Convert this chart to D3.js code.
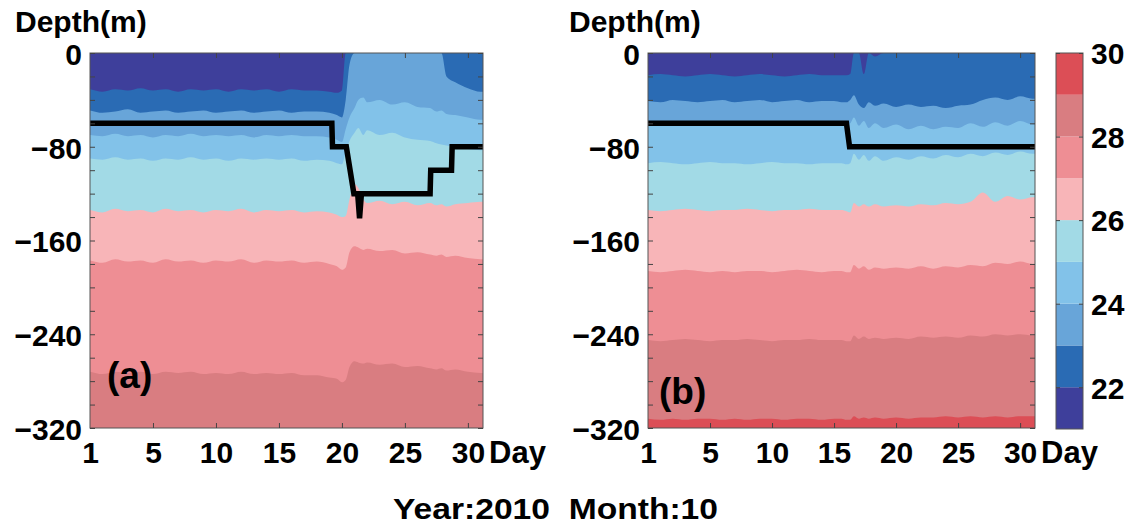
<!DOCTYPE html>
<html><head><meta charset="utf-8">
<script src="https://cdn.jsdelivr.net/npm/d3@7"></script>
<style>
html,body{margin:0;padding:0;background:#fff;}
svg text{font-family:"Liberation Sans",Arial,Helvetica,sans-serif;font-weight:bold;fill:#000;}
</style></head>
<body><svg id="chart" width="1127" height="525"></svg>
<script>
// ---------------- data ----------------
const tempLevels = [21,22,23,24,25,26,27,28,29,30];
const bandColors = ["#3e3f9b","#2a6bb4","#68a5d9","#82c2e9","#a2dae6","#f8b5b8","#ee8e94","#d97d81","#dc4e56"];
const depthTicks = [0,-80,-160,-240,-320];
const depthMinorTicks = [0,-20,-40,-60,-80,-100,-120,-140,-160,-180,-200,-220,-240,-260,-280,-300,-320];
const dayTickPos = [0,5,10,15,20,25,30];
const dayTickLabels = ["1","5","10","15","20","25","30"];
const cbarTicks = [22,24,26,28,30];

// panel (a): isotherm depths (m)
const daysA = [0,1,2,3,4,5,6,7,8,9,10,11,12,13,14,15,16,17,18,19,19.6,20.0,20.3,20.6,21.0,21.3,21.7,22,23,24,25,26,27,27.5,27.9,28.3,29,30,31,31.2];
const iso22A = [-31,-33,-31,-32,-30,-32,-31,-33,-31,-32,-31,-33,-31,-32,-31,-33,-31,-32,-32,-33,-34,-32,0,0,0,0,0,0,0,0,0,0,0,0,0,0,0,0,0,0];
const iso23A = [-49,-51,-50,-48,-51,-50,-49,-51,-50,-49,-51,-50,-49,-51,-50,-49,-51,-50,-50,-51,-53,-55,-40,-10,0,0,0,0,0,0,0,0,0,0,0,-20,-25,-30,-33,-33];
const iso24A = [-70,-71,-69,-71,-70,-72,-70,-71,-69,-71,-70,-71,-70,-72,-70,-71,-70,-71,-71,-72,-74,-76,-65,-55,-47,-40,-38,-42,-40,-44,-42,-46,-47,-50,-49,-52,-53,-55,-57,-57];
const iso25A = [-90,-91,-89,-91,-90,-92,-90,-91,-89,-91,-90,-92,-90,-91,-90,-91,-90,-92,-91,-92,-94,-95,-85,-75,-68,-64,-70,-66,-70,-68,-72,-74,-75,-77,-78,-79,-80,-82,-83,-83];
const iso26A = [-134,-136,-133,-135,-134,-136,-133,-135,-134,-136,-134,-135,-133,-136,-134,-135,-134,-136,-135,-136,-138,-140,-139,-125,-112,-115,-125,-128,-126,-129,-127,-130,-128,-130,-129,-131,-129,-128,-127,-127];
const iso27A = [-177,-179,-176,-178,-177,-179,-176,-178,-177,-179,-177,-178,-176,-179,-177,-178,-177,-179,-178,-180,-182,-185,-183,-170,-165,-166,-168,-167,-169,-168,-171,-170,-172,-173,-172,-174,-173,-175,-176,-176];
const iso28A = [-272,-274,-272,-273,-272,-274,-272,-273,-272,-274,-273,-274,-272,-274,-273,-274,-273,-275,-275,-277,-278,-281,-279,-268,-263,-264,-265,-264,-266,-265,-268,-267,-269,-270,-269,-271,-270,-272,-273,-273];
// mixed layer depth (a)
const mldDaysA  = [0,19.2,19.25,20.35,20.95,21.25,21.4,21.55,27.0,27.05,28.7,28.75,31.2];
const mldDepthA = [-60,-60,-80,-80,-120,-120,-141,-120,-120,-100,-100,-80,-80];

// panel (b): isotherm depths (m)
const daysB = [0,1,2,3,4,5,6,7,8,9,10,11,12,13,14,15,15.6,16.0,16.3,16.6,17.0,17.4,17.8,18.3,19,20,21,22,23,24,25,26,27,28,29,30,31,31.2];
const iso22B = [-19,-18,-19,-20,-19,-18,-19,-20,-19,-18,-19,-20,-19,-18,-19,-19,-19,-19,-18,0,0,-18,0,-3,0,0,0,0,0,0,0,0,0,0,0,0,0,0];
const iso23B = [-41,-42,-40,-41,-42,-41,-40,-42,-41,-40,-42,-41,-40,-42,-41,-41,-42,-42,-40,-36,-44,-47,-42,-45,-43,-46,-44,-46,-45,-47,-45,-44,-40,-38,-40,-37,-39,-39];
const iso24B = [-59,-60,-59,-60,-61,-60,-59,-60,-60,-59,-61,-60,-60,-59,-60,-60,-60,-61,-60,-55,-62,-58,-64,-60,-64,-61,-65,-62,-65,-63,-64,-60,-63,-59,-62,-58,-61,-61];
const iso25B = [-94,-93,-94,-95,-94,-93,-94,-94,-95,-94,-93,-94,-94,-95,-94,-94,-94,-95,-94,-86,-91,-87,-92,-88,-92,-89,-91,-88,-90,-87,-89,-86,-88,-85,-87,-84,-86,-86];
const iso26B = [-134,-135,-134,-133,-134,-135,-134,-134,-133,-134,-135,-134,-134,-133,-134,-134,-134,-135,-136,-128,-131,-129,-131,-129,-131,-130,-131,-129,-130,-128,-129,-127,-119,-127,-122,-125,-123,-123];
const iso27B = [-186,-187,-186,-185,-186,-187,-186,-187,-186,-186,-187,-186,-185,-186,-187,-186,-186,-187,-187,-181,-184,-182,-185,-183,-184,-183,-184,-182,-184,-182,-183,-181,-182,-179,-180,-178,-180,-180];
const iso28B = [-245,-246,-245,-244,-245,-246,-245,-245,-244,-245,-246,-245,-245,-244,-245,-245,-245,-246,-246,-241,-244,-242,-244,-243,-244,-243,-244,-242,-243,-242,-243,-241,-242,-240,-241,-240,-241,-241];
const iso29B = [-312,-313,-312,-313,-312,-312,-313,-312,-313,-312,-312,-313,-312,-312,-313,-312,-312,-313,-313,-310,-312,-311,-312,-311,-312,-311,-312,-311,-311,-310,-311,-310,-311,-310,-311,-310,-310,-310];
// mixed layer depth (b)
const mldDaysB  = [0,16.0,16.25,31.2];
const mldDepthB = [-60,-60,-80,-80];

// ---------------- drawing ----------------
const svg = d3.select("#chart");
const plotTop = 53, plotBottom = 428;
const dayDomain = [0, 31.2];
const depthDomain = [0, -320];

function panel(left, right, days, isos, mldDays, mldDepth, tag, tagX, tagY, depthX, id){
  const x = d3.scaleLinear().domain(dayDomain).range([left, right]);
  const y = d3.scaleLinear().domain(depthDomain).range([plotTop, plotBottom]);
  const g = svg.append("g");
  g.append("clipPath").attr("id", id).append("rect")
    .attr("x", left).attr("y", plotTop).attr("width", right-left).attr("height", plotBottom-plotTop);
  const pg = g.append("g").attr("clip-path", `url(#${id})`);
  const bounds = [days.map(() => depthDomain[0])].concat(isos);
  bounds.forEach((b, k) => {
    const pts = days.map((d, i) => ({d, v: b[i]}));
    const area = d3.area().x(p => x(p.d)).y0(p => y(p.v)).y1(y(depthDomain[1])).curve(d3.curveMonotoneX);
    pg.append("path").attr("d", area(pts)).attr("fill", bandColors[k]);
  });
  const line = d3.line().x(p => x(p[0])).y(p => y(p[1]));
  pg.append("path").attr("d", line(mldDays.map((d,i)=>[d, mldDepth[i]])))
    .attr("fill","none").attr("stroke","#000").attr("stroke-width",5.5).attr("stroke-linejoin","miter");
  g.append("rect").attr("x", left).attr("y", plotTop).attr("width", right-left).attr("height", plotBottom-plotTop)
    .attr("fill","none").attr("stroke","#555").attr("stroke-width",1);
  const tickStyle = s => s.call(a => a.select(".domain").remove()).selectAll("line").attr("stroke","#444");
  g.append("g").attr("transform",`translate(${left},0)`)
    .call(d3.axisLeft(y).tickValues(depthMinorTicks).tickSize(-5).tickFormat("")).call(tickStyle);
  g.append("g").attr("transform",`translate(${right},0)`)
    .call(d3.axisRight(y).tickValues(depthMinorTicks).tickSize(-5).tickFormat("")).call(tickStyle);
  g.append("g").attr("transform",`translate(0,${plotBottom})`)
    .call(d3.axisBottom(x).tickValues(dayTickPos.slice(1)).tickSize(-5).tickFormat("")).call(tickStyle);
  g.append("g").attr("transform",`translate(0,${plotTop})`)
    .call(d3.axisTop(x).tickValues(dayTickPos.slice(1)).tickSize(-5).tickFormat("")).call(tickStyle);
  const ya = g.append("g").attr("transform",`translate(${left},0)`)
    .call(d3.axisLeft(y).tickValues(depthTicks).tickSize(0).tickPadding(8)
      .tickFormat(v => v === 0 ? "0" : "\u2212" + Math.abs(v)));
  ya.select(".domain").remove();
  ya.selectAll("text").attr("font-size",30).attr("dy","0.38em")
    .style("font-family",'"Liberation Sans",Arial,sans-serif').style("font-weight","bold");
  const xa = g.append("g").attr("transform",`translate(0,${plotBottom})`)
    .call(d3.axisBottom(x).tickValues(dayTickPos).tickSize(0).tickPadding(0)
      .tickFormat((v,i) => dayTickLabels[i]));
  xa.select(".domain").remove();
  xa.selectAll("text").attr("font-size",30).attr("dy",null).attr("y",35)
    .style("font-family",'"Liberation Sans",Arial,sans-serif').style("font-weight","bold");
  g.append("text").attr("x", right + 6).attr("y", plotBottom + 35).attr("font-size",31).text("Day");
  g.append("text").attr("x", depthX).attr("y", 32).attr("font-size",30).text("Depth(m)");
  g.append("text").attr("x", tagX).attr("y", tagY).attr("font-size",37).text(tag);
}

panel(90, 483, daysA, [iso22A, iso23A, iso24A, iso25A, iso26A, iso27A, iso28A], mldDaysA, mldDepthA, "(a)", 107, 388, 15, "clipA");
panel(648, 1035, daysB, [iso22B, iso23B, iso24B, iso25B, iso26B, iso27B, iso28B, iso29B], mldDaysB, mldDepthB, "(b)", 659, 404, 569, "clipB");

// colour bar
const cbL = 1056, cbR = 1083;
const cy = d3.scaleLinear().domain([tempLevels[0], tempLevels[tempLevels.length-1]]).range([429, 53]);
const cb = svg.append("g");
tempLevels.slice(0,-1).forEach((t,i) => {
  cb.append("rect").attr("x", cbL).attr("y", cy(tempLevels[i+1])).attr("width", cbR-cbL)
    .attr("height", cy(t) - cy(tempLevels[i+1])).attr("fill", bandColors[i]);
});
cb.append("rect").attr("x", cbL).attr("y", 53).attr("width", cbR-cbL).attr("height", 376)
  .attr("fill","none").attr("stroke","#555").attr("stroke-width",1);
const cbTickStyle = s => s.call(a => a.select(".domain").remove()).selectAll("line").attr("stroke","#444");
cb.append("g").attr("transform",`translate(${cbL},0)`)
  .call(d3.axisLeft(cy).tickValues(cbarTicks).tickSize(-4).tickFormat("")).call(cbTickStyle);
const cba = cb.append("g").attr("transform",`translate(${cbR},0)`)
  .call(d3.axisRight(cy).tickValues(cbarTicks).tickSize(-4).tickPadding(8));
cba.select(".domain").remove();
cba.selectAll("line").attr("stroke","#444");
cba.selectAll("text").attr("font-size",30).attr("dy","0.36em")
  .style("font-family",'"Liberation Sans",Arial,sans-serif').style("font-weight","bold");

svg.append("text").attr("x", 393).attr("y", 519).attr("font-size",30)
  .attr("textLength", 325).attr("lengthAdjust","spacingAndGlyphs").style("white-space","pre")
  .text("Year:2010  Month:10");
</script></body></html>
